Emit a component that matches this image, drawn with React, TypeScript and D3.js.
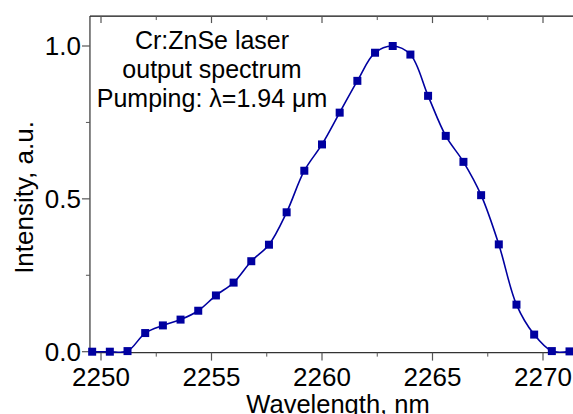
import { useEffect, useRef } from 'react';
import * as d3 from 'd3';

const wavelengths = [
  2249.6, 2250.4, 2251.2, 2252.0, 2252.8, 2253.6, 2254.4, 2255.2, 2256.0, 2256.8,
  2257.6, 2258.4, 2259.2, 2260.0, 2260.8, 2261.6, 2262.4, 2263.2, 2264.0, 2264.8,
  2265.6, 2266.4, 2267.2, 2268.0, 2268.8, 2269.6, 2270.4, 2271.2,
];
const intensity = [
  0, 0, 0.002, 0.061, 0.086, 0.105, 0.134, 0.184, 0.226, 0.296,
  0.35, 0.456, 0.592, 0.678, 0.782, 0.886, 0.978, 1.0, 0.972, 0.837,
  0.706, 0.621, 0.512, 0.351, 0.154, 0.056, 0.002, 0.001,
];
const xTicks = [2250, 2255, 2260, 2265, 2270];
const xMinor = [2252.5, 2257.5, 2262.5, 2267.5];
const yTicks = [0, 0.5, 1.0];
const yMinor = [0.25, 0.75];
const titleLines = ['Cr:ZnSe laser', 'output spectrum', 'Pumping: \u03bb=1.94 \u03bcm'];

const width = 573;
const height = 414;
const font = '"Liberation Sans", Arial, sans-serif';
const blue = '#0000a0';

export default function App() {
  const svgRef = useRef<SVGSVGElement>(null);

  useEffect(() => {
    if (!svgRef.current) return;
    const svg = d3.select(svgRef.current);
    svg.selectAll('*').remove();

    const x = d3.scaleLinear().domain([2250, 2270]).range([101, 543]);
    const y = d3.scaleLinear().domain([0, 1]).range([351.7, 46]);

    const left = x(2249.5);
    const right = x(2271.6);
    const top = y(1.098);
    const bottom = y(-0.003);

    const data = wavelengths.map((w, i) => ({ w, v: intensity[i] }));

    // frame
    const axisColor = '#333';
    svg.append('line').attr('x1', left).attr('x2', right).attr('y1', top).attr('y2', top)
      .attr('stroke', '#111').attr('stroke-width', 1.3);
    svg.append('line').attr('x1', left).attr('x2', right).attr('y1', bottom).attr('y2', bottom)
      .attr('stroke', axisColor).attr('stroke-width', 1.2);
    svg.append('line').attr('x1', left).attr('x2', left).attr('y1', top).attr('y2', bottom)
      .attr('stroke', axisColor).attr('stroke-width', 1.2);

    const tickColor = '#555';
    // bottom ticks (outward) and top ticks (inward)
    const xt = svg.append('g');
    xTicks.forEach((t) => {
      xt.append('line').attr('x1', x(t)).attr('x2', x(t)).attr('y1', bottom).attr('y2', bottom + 8)
        .attr('stroke', tickColor).attr('stroke-width', 1.2);
      xt.append('line').attr('x1', x(t)).attr('x2', x(t)).attr('y1', top).attr('y2', top + 7)
        .attr('stroke', tickColor).attr('stroke-width', 1.2);
      xt.append('text').attr('x', x(t)).attr('y', 386).attr('text-anchor', 'middle')
        .attr('font-family', font).attr('font-size', 26).attr('fill', '#000').text(String(t));
    });
    xMinor.forEach((t) => {
      xt.append('line').attr('x1', x(t)).attr('x2', x(t)).attr('y1', bottom).attr('y2', bottom + 4)
        .attr('stroke', tickColor).attr('stroke-width', 1);
      xt.append('line').attr('x1', x(t)).attr('x2', x(t)).attr('y1', top).attr('y2', top + 4)
        .attr('stroke', tickColor).attr('stroke-width', 1);
    });

    // left ticks (outward)
    const yt = svg.append('g');
    yTicks.forEach((t) => {
      yt.append('line').attr('x1', left - 8).attr('x2', left).attr('y1', y(t)).attr('y2', y(t))
        .attr('stroke', tickColor).attr('stroke-width', 1.2);
      yt.append('text').attr('x', 81).attr('y', y(t)).attr('dy', '0.35em').attr('text-anchor', 'end')
        .attr('font-family', font).attr('font-size', 26).attr('fill', '#000').text(t.toFixed(1));
    });
    yMinor.forEach((t) => {
      yt.append('line').attr('x1', left - 4).attr('x2', left).attr('y1', y(t)).attr('y2', y(t))
        .attr('stroke', tickColor).attr('stroke-width', 1);
    });

    // axis titles
    svg.append('text').attr('x', 338).attr('y', 413).attr('text-anchor', 'middle')
      .attr('font-family', font).attr('font-size', 25.5).attr('fill', '#000').text('Wavelength, nm');
    svg.append('text').attr('transform', `translate(33,${197.5}) rotate(-90)`).attr('text-anchor', 'middle')
      .attr('font-family', font).attr('font-size', 26).attr('fill', '#000').text('Intensity, a.u.');

    // annotation
    const ann = svg.append('text').attr('text-anchor', 'middle').attr('font-family', font)
      .attr('font-size', 25).attr('fill', '#000');
    titleLines.forEach((line, i) => {
      ann.append('tspan').attr('x', 212).attr('y', 49 + i * 29).text(line);
    });

    // curve
    const line = d3.line<{ w: number; v: number }>()
      .x((d) => x(d.w))
      .y((d) => y(d.v))
      .curve(d3.curveCatmullRom.alpha(0.5));

    svg.append('path').datum(data).attr('fill', 'none').attr('stroke', blue)
      .attr('stroke-width', 1.6).attr('d', line);

    const size = 8;
    svg.append('g').selectAll('rect').data(data).join('rect')
      .attr('x', (d) => x(d.w) - size / 2)
      .attr('y', (d) => y(d.v) - size / 2)
      .attr('width', size)
      .attr('height', size)
      .attr('fill', blue);
  }, []);

  return (
    <svg
      ref={svgRef}
      width={width}
      height={height}
      style={{ position: 'absolute', left: 0, top: 0, background: '#fff' }}
    />
  );
}
